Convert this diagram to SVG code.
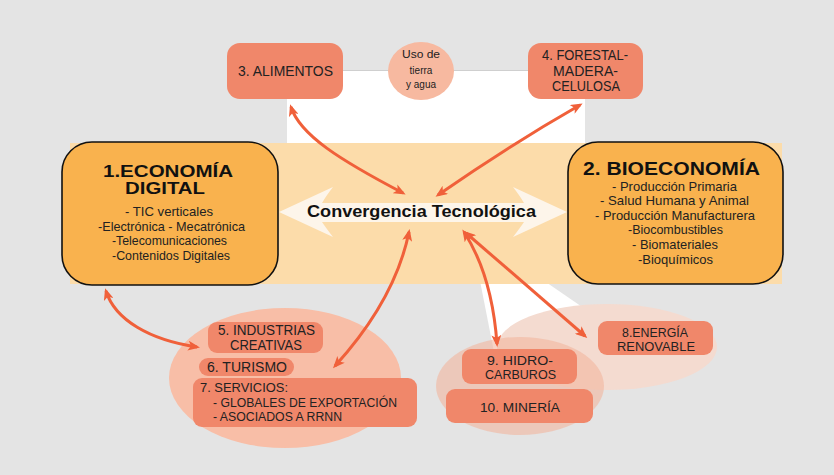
<svg xmlns="http://www.w3.org/2000/svg" width="834" height="475" viewBox="0 0 834 475">
<style>
  text { font-family: "Liberation Sans", Arial, sans-serif; fill: #222; text-anchor: middle; }
  .sal { fill: #f0876a; }
  .big { fill: #f9b24e; stroke: #111; stroke-width: 1.6; }
  .t14 { font-size: 14px; }
  .t13 { font-size: 13px; }
  .t12 { font-size: 12px; }
  .ttl { font-size: 16px; font-weight: bold; fill: #111; }
  .conn path { fill: none; stroke: #f0603a; stroke-width: 3; marker-start: url(#ah); marker-end: url(#ah); }
</style>
<defs>
  <marker id="ah" viewBox="0 0 12 10" refX="9" refY="5" markerWidth="13" markerHeight="10" markerUnits="userSpaceOnUse" orient="auto-start-reverse">
    <path d="M0,0 L12,5 L0,10 L3,5 Z" fill="#f0603a"/>
  </marker>
</defs>
<rect width="834" height="475" fill="#e4e4e4"/>
<!-- background shapes -->
<rect x="287" y="71" width="298" height="72" fill="#ffffff"/>
<line x1="343" y1="70.5" x2="528" y2="70.5" stroke="#cfcfcf" stroke-width="1"/>
<path d="M470,230 L494,352 L620,352 L620,333 Z" fill="#ffffff"/>
<rect x="70" y="143" width="712" height="141" fill="#fcdcaa"/>
<ellipse cx="285" cy="378" rx="116" ry="70" fill="#f8bea7"/>
<ellipse cx="607" cy="347" rx="110" ry="43" fill="#f4dbd0"/>
<ellipse cx="520" cy="386" rx="84" ry="49" fill="#f2b59e" opacity="0.6"/>
<!-- convergence -->
<g id="convergencia">
  <path d="M279,212 L333,187 Q326,196 322,203 L524,203 Q520,196 513,187 L567,212 L513,237 Q520,228 524,222 L322,222 Q326,228 333,237 Z" fill="#fdf5ea"/>
  <text x="421.5" y="217" style="font-size:17px;font-weight:bold;fill:#111" textLength="229" lengthAdjust="spacingAndGlyphs">Convergencia Tecnológica</text>
</g>
<g id="n3">
  <rect class="sal" x="227" y="43" width="116" height="56" rx="13"/>
  <text class="t14" x="285.5" y="76" textLength="95" lengthAdjust="spacingAndGlyphs">3. ALIMENTOS</text>
</g>
<g id="uso">
  <ellipse cx="421" cy="71" rx="33" ry="29" fill="#f7b9a0"/>
  <text x="421" y="58" style="font-size:10px" textLength="38" lengthAdjust="spacingAndGlyphs">Uso de</text>
  <text x="421" y="74" style="font-size:10px">tierra</text>
  <text x="421" y="88" style="font-size:10px">y agua</text>
</g>
<g id="n4">
  <rect class="sal" x="528" y="43" width="115" height="56" rx="13"/>
  <text class="t14" x="585" y="60" textLength="86" lengthAdjust="spacingAndGlyphs">4. FORESTAL-</text>
  <text class="t14" x="585.5" y="76" textLength="65" lengthAdjust="spacingAndGlyphs">MADERA-</text>
  <text class="t14" x="586" y="91" textLength="68" lengthAdjust="spacingAndGlyphs">CELULOSA</text>
</g>
<g id="n1">
  <rect class="big" x="62" y="142" width="216" height="143" rx="30"/>
  <text class="ttl" x="168" y="177" textLength="130" lengthAdjust="spacingAndGlyphs">1.ECONOMÍA</text>
  <text class="ttl" x="165" y="194" textLength="80" lengthAdjust="spacingAndGlyphs">DIGITAL</text>
  <text class="t13" x="169" y="216" textLength="88" lengthAdjust="spacingAndGlyphs">- TIC verticales</text>
  <text class="t13" x="171.5" y="231" textLength="147" lengthAdjust="spacingAndGlyphs">-Electrónica - Mecatrónica</text>
  <text class="t13" x="169.5" y="245" textLength="115" lengthAdjust="spacingAndGlyphs">-Telecomunicaciones</text>
  <text class="t13" x="171" y="260" textLength="118" lengthAdjust="spacingAndGlyphs">-Contenidos Digitales</text>
</g>
<g id="n2">
  <rect class="big" x="568" y="142" width="215" height="142" rx="30"/>
  <text class="ttl" x="671.5" y="175" style="font-size:18px" textLength="177" lengthAdjust="spacingAndGlyphs">2. BIOECONOMÍA</text>
  <text class="t13" x="674.5" y="191" textLength="125" lengthAdjust="spacingAndGlyphs">- Producción Primaria</text>
  <text class="t13" x="674.5" y="205" textLength="149" lengthAdjust="spacingAndGlyphs">- Salud Humana y Animal</text>
  <text class="t13" x="675" y="220" textLength="160" lengthAdjust="spacingAndGlyphs">- Producción Manufacturera</text>
  <text class="t13" x="675.5" y="234" textLength="95" lengthAdjust="spacingAndGlyphs">-Biocombustibles</text>
  <text class="t13" x="675" y="249" textLength="86" lengthAdjust="spacingAndGlyphs">- Biomateriales</text>
  <text class="t13" x="675.5" y="264" textLength="75" lengthAdjust="spacingAndGlyphs">-Bioquímicos</text>
</g>
<g id="n5">
  <rect class="sal" x="208" y="322" width="115" height="31" rx="9"/>
  <text class="t14" x="266.5" y="335" textLength="97" lengthAdjust="spacingAndGlyphs">5. INDUSTRIAS</text>
  <text class="t14" x="266" y="350" textLength="72" lengthAdjust="spacingAndGlyphs">CREATIVAS</text>
</g>
<g id="n6">
  <rect class="sal" x="199" y="358" width="95" height="18" rx="9"/>
  <text class="t14" x="247" y="372" textLength="80" lengthAdjust="spacingAndGlyphs">6. TURISMO</text>
</g>
<g id="n7">
  <rect class="sal" x="193" y="378" width="224" height="49" rx="9"/>
  <text class="t13" x="200" y="392" style="text-anchor:start" textLength="88" lengthAdjust="spacingAndGlyphs">7. SERVICIOS:</text>
  <text class="t12" x="213" y="407" style="text-anchor:start" textLength="184" lengthAdjust="spacingAndGlyphs">- GLOBALES DE EXPORTACIÓN</text>
  <text class="t12" x="213" y="421" style="text-anchor:start" textLength="129" lengthAdjust="spacingAndGlyphs">- ASOCIADOS A RRNN</text>
</g>
<g id="n8">
  <rect class="sal" x="598" y="321" width="115" height="34" rx="9"/>
  <text class="t13" x="655" y="337" textLength="66" lengthAdjust="spacingAndGlyphs">8.ENERGÍA</text>
  <text class="t13" x="656" y="351" textLength="78" lengthAdjust="spacingAndGlyphs">RENOVABLE</text>
</g>
<g id="n9">
  <rect class="sal" x="462" y="349" width="115" height="35" rx="9"/>
  <text class="t13" x="520" y="365" textLength="66" lengthAdjust="spacingAndGlyphs">9. HIDRO-</text>
  <text class="t13" x="520.5" y="379" textLength="71" lengthAdjust="spacingAndGlyphs">CARBUROS</text>
</g>
<g id="n10">
  <rect class="sal" x="446" y="389" width="147" height="34" rx="9"/>
  <text class="t13" x="520" y="412" textLength="80" lengthAdjust="spacingAndGlyphs">10. MINERÍA</text>
</g>
<g id="connectors" class="conn">
  <path d="M291,107 C300,135 340,160 403,193"/>
  <path d="M580,105 Q510,145 438,195"/>
  <path d="M106,291 C115,320 150,340 197,347"/>
  <path d="M409,232 Q395,300 335,366"/>
  <path d="M464,232 Q492,275 497,344"/>
  <path d="M466,233 L585,336"/>
</g>
</svg>
